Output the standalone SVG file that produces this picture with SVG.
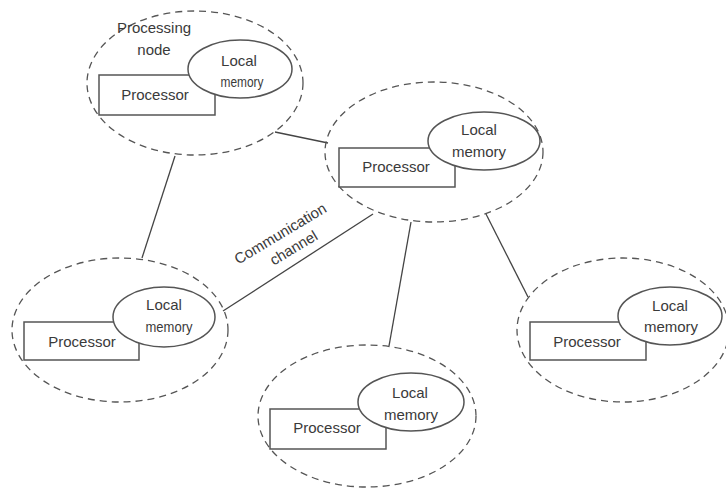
<svg xmlns="http://www.w3.org/2000/svg" width="726" height="488" viewBox="0 0 726 488">
  <style>
    .bound { fill: none; stroke: #555; stroke-width: 1.3; stroke-dasharray: 7 5; }
    .cpu { fill: #fff; stroke: #555; stroke-width: 1.5; }
    .mem { fill: #fff; stroke: #555; stroke-width: 1.5; }
    .link { fill: none; stroke: #444; stroke-width: 1.3; }
    text { font-family: "Liberation Sans", Arial, sans-serif; font-size: 15px; fill: #3a3a3a; text-anchor: middle; }
  </style>
  <rect width="726" height="488" fill="#fff"/>

  <!-- communication links -->
  <g id="connectors">
    <line class="link" x1="275" y1="132" x2="328" y2="143"/>
    <line class="link" x1="175" y1="156" x2="142" y2="258"/>
    <line class="link" x1="223" y1="311" x2="373" y2="214"/>
    <line class="link" x1="411" y1="222" x2="389" y2="346"/>
    <line class="link" x1="486" y1="214" x2="528" y2="297"/>
  </g>

  <!-- processing node, top left -->
  <g id="node-top-left">
    <ellipse class="bound" cx="195" cy="83" rx="108" ry="72"/>
    <text x="154" y="33">Processing</text>
    <text x="154" y="55">node</text>
    <rect class="cpu" x="99" y="75" width="116" height="40"/>
    <text x="155" y="100">Processor</text>
    <ellipse class="mem" cx="240" cy="69" rx="52" ry="29"/>
    <text x="239" y="66">Local</text>
    <text x="242" y="87" textLength="43" lengthAdjust="spacingAndGlyphs">memory</text>
  </g>

  <!-- processing node, centre -->
  <g id="node-center">
    <ellipse class="bound" cx="434" cy="152" rx="109" ry="70"/>
    <rect class="cpu" x="339" y="148" width="116" height="39"/>
    <text x="396" y="172">Processor</text>
    <ellipse class="mem" cx="484" cy="141" rx="56" ry="29"/>
    <text x="479" y="135">Local</text>
    <text x="479" y="157">memory</text>
  </g>

  <!-- processing node, left -->
  <g id="node-left">
    <ellipse class="bound" cx="120" cy="330" rx="108" ry="72"/>
    <rect class="cpu" x="24" y="322" width="115" height="38"/>
    <text x="82" y="347">Processor</text>
    <ellipse class="mem" cx="164" cy="317" rx="51" ry="30"/>
    <text x="164" y="310">Local</text>
    <text x="169" y="332" textLength="47" lengthAdjust="spacingAndGlyphs">memory</text>
  </g>

  <!-- processing node, bottom -->
  <g id="node-bottom">
    <ellipse class="bound" cx="367" cy="416" rx="109" ry="71"/>
    <rect class="cpu" x="270" y="409" width="116" height="40"/>
    <text x="327" y="433">Processor</text>
    <ellipse class="mem" cx="411" cy="402" rx="53" ry="29"/>
    <text x="410" y="398">Local</text>
    <text x="411" y="420">memory</text>
  </g>

  <!-- processing node, right -->
  <g id="node-right">
    <ellipse class="bound" cx="623" cy="330" rx="106" ry="72"/>
    <rect class="cpu" x="530" y="322" width="116" height="38"/>
    <text x="587" y="347">Processor</text>
    <ellipse class="mem" cx="670" cy="316" rx="52" ry="29"/>
    <text x="670" y="311">Local</text>
    <text x="671" y="332">memory</text>
  </g>

  <!-- link label -->
  <g id="channel-label" transform="translate(283 238) rotate(-31)">
    <text x="0" y="0">Communication</text>
    <text x="4" y="19">channel</text>
  </g>
</svg>
